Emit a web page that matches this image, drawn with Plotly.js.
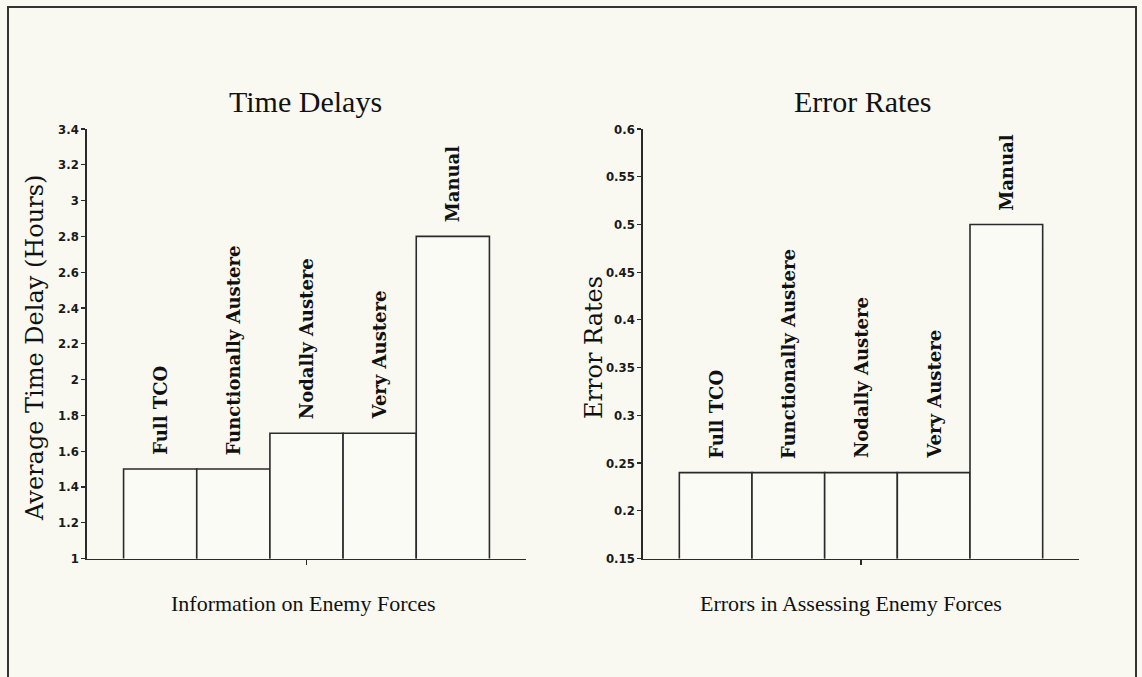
<!DOCTYPE html>
<html>
<head>
<meta charset="utf-8">
<script src="https://cdn.plot.ly/plotly-3.0.1.min.js"></script>
<style>
  html, body { margin: 0; padding: 0; background: #f9f9f1; }
  #chart { width: 1142px; height: 677px; }
</style>
</head>
<body>
<div id="chart"></div>
<script>
// ---- data ----
const categories = ['Full TCO', 'Functionally Austere', 'Nodally Austere', 'Very Austere', 'Manual'];
const timeDelays = [1.5, 1.5, 1.7, 1.7, 2.8];
const errorRates = [0.24, 0.24, 0.24, 0.24, 0.5];

const timeTickVals = [1, 1.2, 1.4, 1.6, 1.8, 2, 2.2, 2.4, 2.6, 2.8, 3, 3.2, 3.4];
const timeTickText = ['1', '1.2', '1.4', '1.6', '1.8', '2', '2.2', '2.4', '2.6', '2.8', '3', '3.2', '3.4'];
const errorTickVals = [0.15, 0.2, 0.25, 0.3, 0.35, 0.4, 0.45, 0.5, 0.55, 0.6];
const errorTickText = ['0.15', '0.2', '0.25', '0.3', '0.35', '0.4', '0.45', '0.5', '0.55', '0.6'];

const chartTitles = ['Time Delays', 'Error Rates'];
const xTitles = ['Information on Enemy Forces', 'Errors in Assessing Enemy Forces'];
const yTitles = ['Average Time Delay (Hours)', 'Error Rates'];

// ---- styling ----
const BG = '#f9f9f1';
const INK = '#2a2a2a';
const W = 1142, H = 677;
const px = v => v / W;
const py = v => (H - v) / H;

const barStyle = {
  type: 'bar',
  marker: { color: '#fbfbf6', line: { color: INK, width: 1.6 } },
  hoverinfo: 'x+y',
  showlegend: false
};

const traces = [
  Object.assign({}, barStyle, { x: categories, y: timeDelays, xaxis: 'x', yaxis: 'y' }),
  Object.assign({}, barStyle, { x: categories, y: errorRates, xaxis: 'x2', yaxis: 'y2' })
];

const tickFont = { family: '"Liberation Sans Narrow", "DejaVu Sans Condensed", Arial, sans-serif', size: 13, color: '#1a1a1a', weight: 'bold' };

function xAxis(domain) {
  return {
    domain: domain,
    type: 'category',
    range: [-1, 5],
    showgrid: false, zeroline: false,
    showline: true, linecolor: INK, linewidth: 1.6,
    tickmode: 'array', tickvals: [categories[2]], ticktext: [''],
    ticks: 'outside', ticklen: 5, tickcolor: INK, tickwidth: 1.2,
    fixedrange: true
  };
}
function yAxis(domain, range, vals, text, anchor) {
  return {
    domain: domain,
    anchor: anchor,
    range: range,
    showgrid: false, zeroline: false,
    showline: true, linecolor: INK, linewidth: 1.6,
    tickmode: 'array', tickvals: vals, ticktext: text,
    ticks: 'outside', ticklen: 4, tickcolor: INK, tickwidth: 1.2,
    tickfont: tickFont,
    fixedrange: true
  };
}

const yDom = [py(558.5), py(129)];

const layout = {
  width: W, height: H,
  margin: { l: 0, r: 0, t: 0, b: 0 },
  paper_bgcolor: BG,
  plot_bgcolor: 'rgba(0,0,0,0)',
  bargap: 0,
  xaxis: Object.assign(xAxis([px(87), px(526)]), { anchor: 'y' }),
  yaxis: yAxis(yDom, [1, 3.4], timeTickVals, timeTickText, 'x'),
  xaxis2: Object.assign(xAxis([px(643), px(1079)]), { anchor: 'y2' }),
  yaxis2: yAxis(yDom, [0.15, 0.6], errorTickVals, errorTickText, 'x2'),
  shapes: [
    { type: 'rect', xref: 'paper', yref: 'paper', x0: px(8), x1: px(1136), y0: py(700), y1: py(7),
      line: { color: '#333', width: 2 }, fillcolor: 'rgba(0,0,0,0)', layer: 'below' }
  ],
  annotations: []
};

const labelFont = { family: '"DejaVu Serif", "Liberation Serif", serif', size: 18, color: '#111', weight: 'bold' };

[[timeDelays, 'x', 'y'], [errorRates, 'x2', 'y2']].forEach(([vals, xr, yr]) => {
  categories.forEach((c, i) => {
    layout.annotations.push({
      x: c, y: vals[i], xref: xr, yref: yr,
      text: c, textangle: -90, showarrow: false,
      xanchor: 'center', yanchor: 'bottom', yshift: 12,
      font: labelFont
    });
  });
});

const titleFont = { family: '"Liberation Serif", "Times New Roman", serif', size: 30, color: '#111' };
const xTitleFont = { family: '"Liberation Serif", "Times New Roman", serif', size: 22, color: '#111' };
const yTitleFont = { family: '"DejaVu Serif", "Liberation Serif", serif', size: 24, color: '#111' };

const titleX = [px(305), px(862)];
const xTitleX = [px(303), px(851)];
const yTitleX = [px(35), px(594)];

for (let k = 0; k < 2; k++) {
  layout.annotations.push({
    x: titleX[k], y: py(101), xref: 'paper', yref: 'paper', text: chartTitles[k],
    showarrow: false, xanchor: 'center', yanchor: 'middle', font: titleFont
  });
  layout.annotations.push({
    x: xTitleX[k], y: py(603), xref: 'paper', yref: 'paper', text: xTitles[k],
    showarrow: false, xanchor: 'center', yanchor: 'middle', font: xTitleFont
  });
  layout.annotations.push({
    x: yTitleX[k], y: py(348), xref: 'paper', yref: 'paper', text: yTitles[k], textangle: -90,
    showarrow: false, xanchor: 'center', yanchor: 'middle', font: yTitleFont
  });
}

Plotly.newPlot('chart', traces, layout, { displayModeBar: false, staticPlot: true });
</script>
</body>
</html>
